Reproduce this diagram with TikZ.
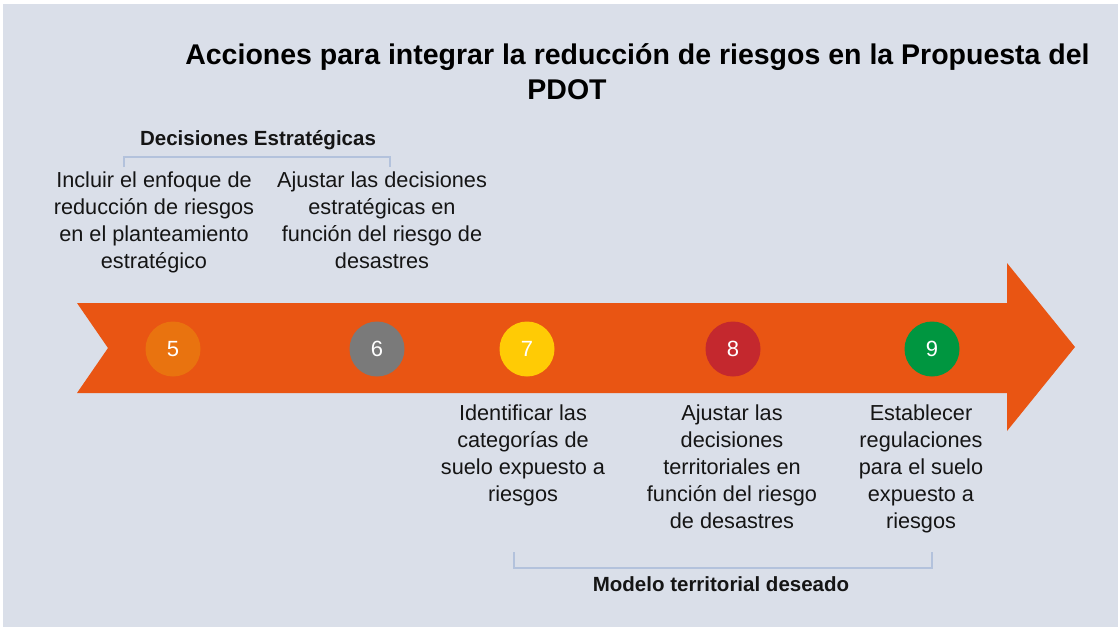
\documentclass[tikz,border=0pt]{standalone}
\usepackage{fontspec}
\setmainfont{Liberation Sans}
\definecolor{bgc}{HTML}{DADFE9}
\definecolor{arrowc}{HTML}{E95513}
\definecolor{c5}{HTML}{E9730F}
\definecolor{c6}{HTML}{7A7A7A}
\definecolor{c7}{HTML}{FFCB05}
\definecolor{c8}{HTML}{C4282E}
\definecolor{c9}{HTML}{009640}
\definecolor{brk}{HTML}{B3C2DC}
\definecolor{txt}{HTML}{151515}
\begin{document}
\begin{tikzpicture}[x=1pt,y=-1pt,
  body/.style={align=center,anchor=base,text=txt,inner sep=0pt,font=\fontsize{21.7}{27}\selectfont},
  lbl/.style={anchor=base,text=txt,inner sep=0pt,font=\bfseries\fontsize{20.5}{24}\selectfont},
  ttl/.style={anchor=base,text=black,inner sep=0pt,font=\bfseries\fontsize{28.5}{34}\selectfont},
  num/.style={circle,minimum size=55pt,inner sep=0pt,text=white,font=\fontsize{22}{22}\selectfont},
  bracket/.style={draw=brk,line width=2pt}]
\useasboundingbox (0,0) rectangle (1118,627);
\fill[white] (0,0) rectangle (1118,627);
\fill[bgc] (3,4) rectangle (1118,627);
% arrow
\fill[arrowc] (77,303) -- (1007,303) -- (1007,263) -- (1075,347) -- (1007,431) -- (1007,393) -- (77,393) -- (108,348) -- cycle;
% circles
\node[num,fill=c5] (n5) at (173,349) {5};
\node[num,fill=c6] (n6) at (377,349) {6};
\node[num,fill=c7] (n7) at (527,349) {7};
\node[num,fill=c8] (n8) at (733,349) {8};
\node[num,fill=c9] (n9) at (932,349) {9};
% title
\node[ttl] (title1) at (637.5,64) {Acciones para integrar la reducción de riesgos en la Propuesta del};
\node[ttl] (title2) at (567,99) {PDOT};
% top bracket
\node[lbl] (decis) at (258,145) {Decisiones Estratégicas};
\coordinate (tl) at (124,167);
\coordinate (tr) at (390,167);
\draw[bracket] (tl) -- (tl |- 0,157) -- (tr |- 0,157) -- (tr);
% texts (base anchor = baseline of last line)
\node[body] (t5) at (154,268) {Incluir el enfoque de\\reducción de riesgos\\en el planteamiento\\estratégico};
\node[body] (t6) at (382,268) {Ajustar las decisiones\\estratégicas en\\función del riesgo de\\desastres};
\node[body] (t7) at (523,501) {Identificar las\\categorías de\\suelo expuesto a\\riesgos};
\node[body] (t8) at (732,528) {Ajustar las\\decisiones\\territoriales en\\función del riesgo\\de desastres};
\node[body] (t9) at (921,528) {Establecer\\regulaciones\\para el suelo\\expuesto a\\riesgos};
% bottom bracket
\coordinate (bl) at (514,552);
\coordinate (br) at (932,552);
\draw[bracket] (bl) -- (bl |- 0,568) -- (br |- 0,568) -- (br);
\node[lbl] (modelo) at (721,591) {Modelo territorial deseado};
\end{tikzpicture}
\end{document}
